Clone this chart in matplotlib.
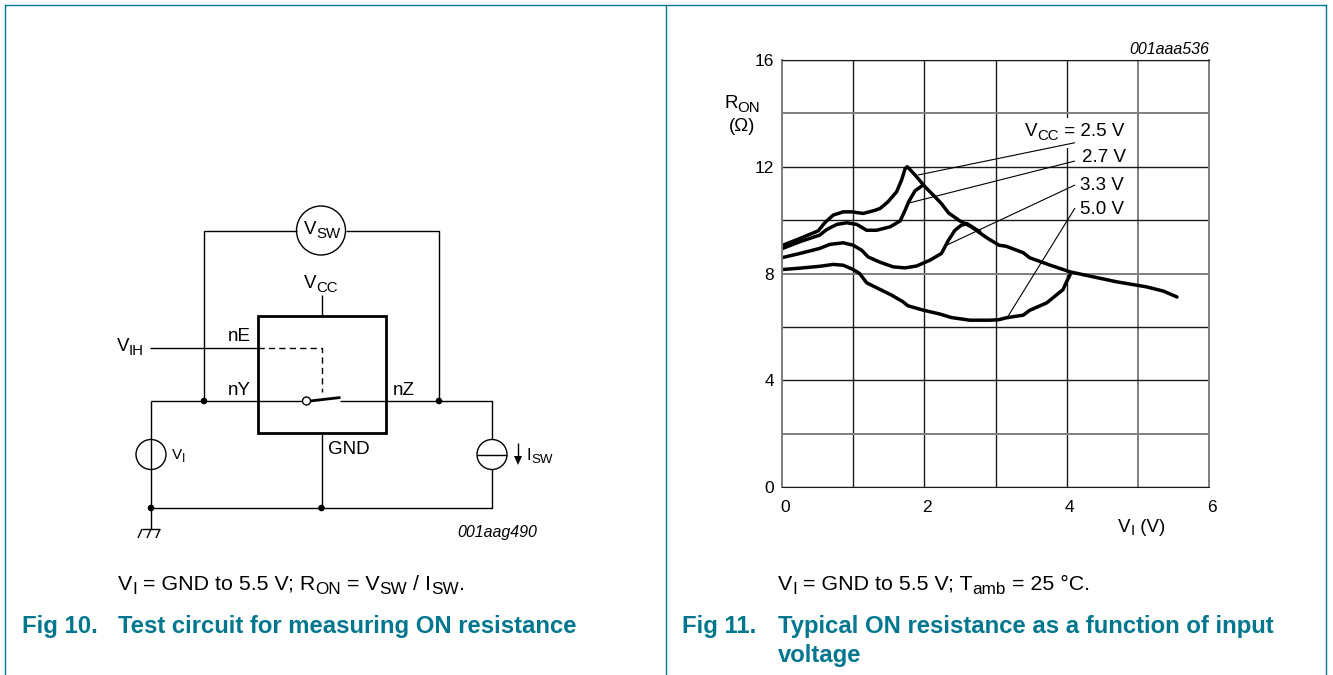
import numpy as np
import matplotlib
matplotlib.use("Agg")
import matplotlib.pyplot as plt
from matplotlib.patches import Circle, Rectangle
from matplotlib.transforms import ScaledTranslation

plt.rcParams['font.family'] = ['Liberation Sans', 'DejaVu Sans']

# ===============================
# CHART DATA
# ===============================
vi_25 = [0.01, 0.25, 0.51, 0.60, 0.72, 0.86, 0.98, 1.14, 1.31, 1.38, 1.49, 1.61, 1.68, 1.73, 1.76, 1.87, 2.01, 2.15,
         2.24, 2.34, 2.50, 2.66, 2.78, 2.90, 2.92, 3.05, 3.15, 3.39, 3.48, 3.77, 4.05, 4.33, 4.70, 5.12, 5.36, 5.55]
ron_25 = [9.06, 9.31, 9.60, 9.90, 10.19, 10.31, 10.31, 10.25, 10.37, 10.44, 10.69, 11.06, 11.50, 11.93, 12.0, 11.69, 11.25, 10.87,
          10.62, 10.27, 9.97, 9.75, 9.52, 9.30, 9.27, 9.06, 9.02, 8.78, 8.59, 8.31, 8.06, 7.90, 7.69, 7.50, 7.34, 7.12]

vi_27 = [0.01, 0.25, 0.53, 0.63, 0.77, 0.91, 1.05, 1.19, 1.33, 1.52, 1.66, 1.73, 1.78, 1.87, 1.98]
ron_27 = [8.94, 9.19, 9.44, 9.65, 9.84, 9.90, 9.84, 9.62, 9.62, 9.75, 9.97, 10.37, 10.69, 11.10, 11.31]

vi_33 = [0.01, 0.25, 0.53, 0.67, 0.86, 1.00, 1.12, 1.21, 1.38, 1.56, 1.73, 1.89, 2.08, 2.24, 2.34, 2.43, 2.52, 2.60, 2.78]
ron_33 = [8.60, 8.75, 8.94, 9.09, 9.15, 9.06, 8.87, 8.62, 8.42, 8.25, 8.21, 8.28, 8.50, 8.75, 9.25, 9.62, 9.81, 9.87, 9.56]

vi_50 = [0.01, 0.25, 0.53, 0.72, 0.86, 1.00, 1.09, 1.19, 1.38, 1.54, 1.70, 1.77, 1.98, 2.22, 2.38, 2.64, 2.92, 3.05,
         3.15, 3.39, 3.48, 3.72, 3.95, 4.00, 4.05]
ron_50 = [8.15, 8.20, 8.27, 8.34, 8.31, 8.15, 8.00, 7.65, 7.40, 7.19, 6.94, 6.79, 6.63, 6.48, 6.35, 6.25, 6.25, 6.27,
          6.34, 6.44, 6.62, 6.90, 7.40, 7.70, 7.96]

x_ticks = [0, 2, 4, 6]
y_ticks = [0, 4, 8, 12, 16]
gray_x = [0, 5, 6]
gray_y = [2, 8, 14]

TEAL = "#00778f"
BLACK = "#000000"
GRID_DARK = "#1a1a1a"
GRID_GRAY = "#7f7f7f"

LABEL = 13.5
CAPTION = 15.4
TITLE = 17.2
CODE = 11.5

# ===============================
# FIGURE + PIXEL OVERLAY
# ===============================
fig = plt.figure(figsize=(13.33, 6.75), dpi=100)
overlay = fig.add_axes([0, 0, 1, 1], zorder=3)
overlay.set_xlim(0, 1333)
overlay.set_ylim(675, 0)
overlay.axis('off')
overlay.patch.set_alpha(0)


def wire(xs, ys, lw=1.0, **kw):
    overlay.plot(xs, ys, color=BLACK, lw=lw, solid_capstyle='butt', **kw)


def dot(x, y):
    overlay.add_patch(Circle((x, y), 2.6, color=BLACK, zorder=5))


def rich(x, y, parts, size=LABEL, color=BLACK):
    # parts: (text, is_subscript) drawn one after the other
    rend = fig.canvas.get_renderer()
    for s, is_sub in parts:
        t = overlay.text(x, y + (size * 0.26 if is_sub else 0), s, fontsize=size * (0.8 if is_sub else 1),
                         color=color, va='baseline', ha='left')
        x += t.get_window_extent(rend).width


# ===============================
# PANEL FRAMES
# ===============================
overlay.plot([5, 5], [5, 675], color=TEAL, lw=1)
overlay.plot([666, 666], [5, 675], color=TEAL, lw=1)
overlay.plot([1326, 1326], [5, 675], color=TEAL, lw=1)
overlay.plot([5, 1326], [5, 5], color=TEAL, lw=1)

# ===============================
# FIG 10 - TEST CIRCUIT
# ===============================
# V_SW loop
wire([204, 204, 297], [401, 230.5, 230.5])
wire([346, 439, 439], [230.5, 230.5, 401])
overlay.add_patch(Circle((321, 230.5), 24.5, fc='white', ec=BLACK, lw=1))
# main rails
wire([151, 151], [508, 401])
wire([151, 306], [401, 401])
wire([340, 492, 492, 151], [401, 401, 508, 508])
wire([151, 151], [508, 529])
wire([321.5, 321.5], [433, 508])
wire([321.5, 321.5], [295, 316])
# chip box
overlay.add_patch(Rectangle((257.5, 316), 128.5, 117, fc='none', ec=BLACK, lw=2))
# V_IH control
wire([150, 258], [347.5, 347.5])
overlay.plot([258, 321.5, 321.5], [347.5, 347.5, 392], color=BLACK, lw=1, dashes=(4.5, 3))
# switch
overlay.plot([310, 340.5], [401, 397.5], color=BLACK, lw=2, solid_capstyle='butt', zorder=6)
overlay.add_patch(Circle((306.5, 401), 4, fc='white', ec=BLACK, lw=1, zorder=7))
# sources
overlay.add_patch(Circle((151, 454.5), 15, fc='white', ec=BLACK, lw=1, zorder=4))
wire([151, 151], [439, 470], zorder=5)
overlay.add_patch(Circle((492, 454.5), 15, fc='white', ec=BLACK, lw=1, zorder=4))
wire([477, 507], [454.5, 454.5], zorder=5)
# I_SW arrow
wire([518, 518], [443, 458])
overlay.fill([514, 522, 518], [456, 456, 465], color=BLACK, lw=0)
# ground
wire([142, 160], [529, 529])
wire([142, 138], [529, 538])
wire([151, 147], [529, 538])
wire([160, 156], [529, 538])
for dx, dy in [(204, 401), (439, 401), (151, 508), (321.5, 508)]:
    dot(dx, dy)

rich(304, 288, [("V", False), ("CC", True)])
rich(303.5, 234, [("V", False), ("SW", True)])
rich(116.5, 351, [("V", False), ("IH", True)])
rich(228, 341, [("nE", False)])
rich(228, 395, [("nY", False)])
rich(392.5, 395, [("nZ", False)])
rich(328, 454, [("GND", False)])
rich(172, 459, [("V", False), ("I", True)], size=11)
rich(526.5, 460, [("I", False), ("SW", True)], size=12)
overlay.text(457, 537, "001aag490", fontsize=CODE, style='italic', color=BLACK)

rich(118, 589.5, [("V", False), ("I", True), (" = GND to 5.5 V; R", False), ("ON", True),
                  (" = V", False), ("SW", True), (" / I", False), ("SW", True), (".", False)], size=CAPTION)
overlay.text(22, 633, "Fig 10.", fontsize=TITLE, fontweight='bold', color=TEAL)
overlay.text(118, 633, "Test circuit for measuring ON resistance", fontsize=TITLE, fontweight='bold', color=TEAL)

# ===============================
# FIG 11 - ON RESISTANCE CURVES
# ===============================
ax = fig.add_axes([782 / 1333, 1 - 487 / 675, (1209 - 782) / 1333, (487 - 60) / 675], zorder=2)
ax.set_xlim(0, 6)
ax.set_ylim(0, 16)
ax.set_xticks(np.arange(0, 7, 1))
ax.set_yticks(np.arange(0, 17, 2))
ax.set_xticklabels([str(v) if v in x_ticks else "" for v in range(7)], fontsize=12.5)
ax.set_yticklabels([str(v) if v in y_ticks else "" for v in range(0, 17, 2)], fontsize=12.5)
ax.tick_params(length=0)
ax.tick_params(axis='x', pad=9)
ax.tick_params(axis='y', pad=5.5)
shift = ScaledTranslation(3 / 100, 0, fig.dpi_scale_trans)
for lab in ax.get_xticklabels():
    lab.set_transform(lab.get_transform() + shift)

ax.grid(True, color=GRID_DARK, lw=1)
ax.set_axisbelow(True)
for v, line in zip(range(7), ax.get_xgridlines()):
    if v in gray_x:
        line.set_color(GRID_GRAY)
        line.set_linewidth(1.4)
for v, line in zip(range(0, 17, 2), ax.get_ygridlines()):
    if v in gray_y:
        line.set_color(GRID_GRAY)
        line.set_linewidth(1.4)
ax.spines['top'].set_color(GRID_DARK)
ax.spines['bottom'].set_color(GRID_DARK)
ax.spines['left'].set_color(GRID_GRAY)
ax.spines['right'].set_color(GRID_GRAY)
ax.spines['left'].set_linewidth(1.4)
ax.spines['right'].set_linewidth(1.4)

for xs, ys in [(vi_25, ron_25), (vi_27, ron_27), (vi_33, ron_33), (vi_50, ron_50)]:
    ax.plot(xs, ys, color=BLACK, lw=2.5, solid_joinstyle='round', solid_capstyle='round')

# white box behind the VCC label cuts the grid line
overlay.add_patch(Rectangle((1024, 118), 106, 30, fc='white', ec='none', zorder=1))

# leader lines from each curve to its label
wire([918, 1075], [175, 142.7], lw=0.8, zorder=2)
wire([909, 1075], [203, 161], lw=0.8, zorder=2)
wire([947, 1075], [245, 185], lw=0.8, zorder=2)
wire([1007, 1075], [318, 208], lw=0.8, zorder=2)

rich(1025, 136.5, [("V", False), ("CC", True), (" = 2.5 V", False)])
overlay.text(1082, 162.5, "2.7 V", fontsize=LABEL)
overlay.text(1080, 190, "3.3 V", fontsize=LABEL)
overlay.text(1080, 214, "5.0 V", fontsize=LABEL)

overlay.text(1129, 53.5, "001aaa536", fontsize=CODE, style='italic')
rich(724, 108, [("R", False), ("ON", True)])
overlay.text(742, 131, "(Ω)", fontsize=LABEL, ha='center')
rich(1118, 531.5, [("V", False), ("I", True), (" (V)", False)])

rich(778, 589.5, [("V", False), ("I", True), (" = GND to 5.5 V; T", False), ("amb", True), (" = 25 °C.", False)], size=CAPTION)
overlay.text(682, 633, "Fig 11.", fontsize=TITLE, fontweight='bold', color=TEAL)
overlay.text(778, 633, "Typical ON resistance as a function of input", fontsize=TITLE, fontweight='bold', color=TEAL)
overlay.text(778, 662, "voltage", fontsize=TITLE, fontweight='bold', color=TEAL)

fig.savefig("out.png", dpi=100)
